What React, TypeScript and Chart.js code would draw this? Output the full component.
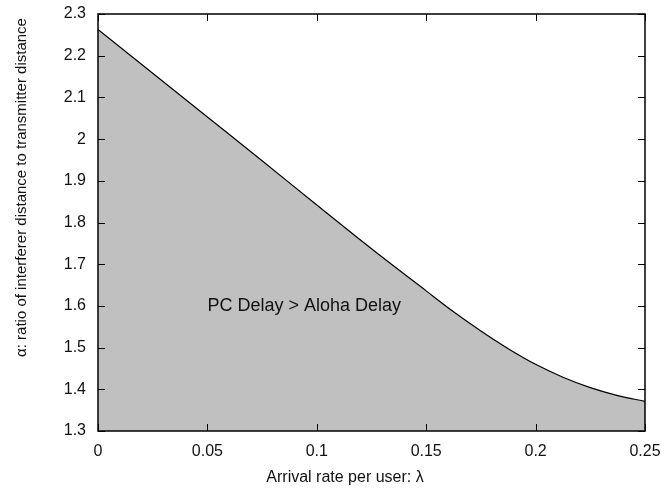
import React, { useEffect, useRef } from "react";
import { Chart, registerables } from "chart.js";

Chart.register(...registerables);

const lambdaValues = [0, 0.025, 0.05, 0.075, 0.1, 0.125, 0.15, 0.1625, 0.175, 0.1875, 0.2, 0.2125, 0.225, 0.2375, 0.25];
const alphaValues = [2.263, 2.158, 2.053, 1.948, 1.842, 1.737, 1.636, 1.586, 1.54, 1.4975, 1.46, 1.429, 1.404, 1.385, 1.371];

const xTickLabels = ["0", "0.05", "0.1", "0.15", "0.2", "0.25"];
const yTickLabels = ["1.3", "1.4", "1.5", "1.6", "1.7", "1.8", "1.9", "2", "2.1", "2.2", "2.3"];

const xTitle = "Arrival rate per user: \u03bb";
const yTitle = "\u03b1: ratio of interferer distance to transmitter distance";
const regionLabel = "PC Delay > Aloha Delay";
const regionLabelPos = { x: 0.05, y: 1.6 };

const FONT = "'Liberation Sans', Arial, sans-serif";

const framePlugin = {
  id: "frameAndTicks",
  afterDraw(chart: any) {
    const ctx = chart.ctx;
    const { left, right, top, bottom } = chart.chartArea;
    const xs = chart.scales.x;
    const ys = chart.scales.y;
    ctx.save();
    ctx.strokeStyle = "#000";
    ctx.lineWidth = 1.5;
    ctx.strokeRect(left, top, right - left, bottom - top);
    ctx.lineWidth = 1;
    const tl = 7;
    ctx.beginPath();
    xs.ticks.forEach((t: any) => {
      const px = Math.round(xs.getPixelForValue(t.value)) + 0.5;
      ctx.moveTo(px, bottom);
      ctx.lineTo(px, bottom - tl);
      ctx.moveTo(px, top);
      ctx.lineTo(px, top + tl);
    });
    ys.ticks.forEach((t: any) => {
      const py = Math.round(ys.getPixelForValue(t.value)) + 0.5;
      ctx.moveTo(left, py);
      ctx.lineTo(left + tl, py);
      ctx.moveTo(right, py);
      ctx.lineTo(right - tl, py);
    });
    ctx.stroke();

    // region label
    ctx.fillStyle = "#111";
    ctx.font = "18px " + FONT;
    ctx.textAlign = "left";
    ctx.textBaseline = "middle";
    ctx.fillText(regionLabel, xs.getPixelForValue(regionLabelPos.x), ys.getPixelForValue(regionLabelPos.y));

    // axis titles
    ctx.textBaseline = "alphabetic";
    ctx.font = "16px " + FONT;
    ctx.textAlign = "center";
    ctx.fillText(xTitle, 345, 482);
    ctx.font = "15px " + FONT;
    ctx.translate(26, 187.5);
    ctx.rotate(-Math.PI / 2);
    ctx.fillText(yTitle, 0, 0);
    ctx.restore();
  },
};

export default function App() {
  const ref = useRef<HTMLCanvasElement>(null);
  useEffect(() => {
    document.body.style.margin = "0";
    const data = lambdaValues.map((x, i) => ({ x, y: alphaValues[i] }));
    const chart = new Chart(ref.current!, {
      type: "line",
      data: {
        datasets: [
          {
            data,
            borderColor: "#000",
            borderWidth: 1.2,
            backgroundColor: "#c0c0c0",
            fill: "start",
            pointRadius: 0,
            cubicInterpolationMode: "monotone",
          },
        ],
      },
      options: {
        animation: false,
        responsive: false,
        maintainAspectRatio: false,
        layout: { padding: { top: 14, right: 19, left: 0, bottom: 0 } },
        plugins: { legend: { display: false }, tooltip: { enabled: false } },
        scales: {
          x: {
            type: "linear",
            min: 0,
            max: 0.25,
            grid: { display: false, drawTicks: false },
            border: { display: false },
            ticks: {
              stepSize: 0.05,
              padding: 11,
              color: "#111",
              maxRotation: 0,
              font: { family: FONT, size: 16 },
              callback: (_v: any, i: number) => xTickLabels[i],
            },
            afterFit: (s: any) => {
              s.height = 60;
              s.paddingLeft = 0;
              s.paddingRight = 0;
            },
          },
          y: {
            type: "linear",
            min: 1.3,
            max: 2.3,
            grid: { display: false, drawTicks: false },
            border: { display: false },
            ticks: {
              stepSize: 0.1,
              padding: 12,
              color: "#111",
              font: { family: FONT, size: 16 },
              callback: (_v: any, i: number) => yTickLabels[i],
            },
            afterFit: (s: any) => {
              s.width = 98;
              s.paddingTop = 0;
              s.paddingBottom = 0;
            },
          },
        },
      },
      plugins: [framePlugin],
    });
    return () => chart.destroy();
  }, []);
  return (
    <div style={{ width: 664, height: 491 }}>
      <canvas ref={ref} width={664} height={491} style={{ display: "block" }} />
    </div>
  );
}
